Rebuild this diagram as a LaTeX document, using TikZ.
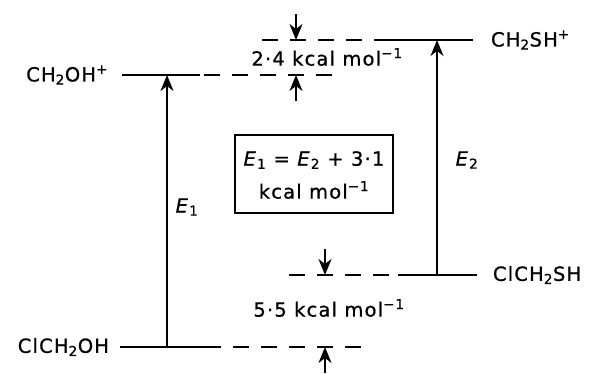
\documentclass[tikz,border=0pt]{standalone}
\usepackage{fontspec}
\setmainfont{DejaVu Sans}[LetterSpace=6, FakeBold=0.8]
\usepackage{tikz}
\usetikzlibrary{arrows.meta}
\newcommand{\En}[1]{\textit{E}\textsubscript{#1}}

\begin{document}
\begin{tikzpicture}[x=1pt, y=1pt, line width=2pt,
		lvl/.style={line width=2pt},
		lvldash/.style={line width=2pt, dash pattern=on 16pt off 12pt},
		gap/.style={-{Stealth[length=16pt, width=13pt, inset=5pt]}, line width=2pt},
		txt/.style={font=\fontsize{19.5}{23}\selectfont, inner sep=0pt}]
			\useasboundingbox (0, 0) rectangle (593, 373);
			\def\ya{333}
			\def\yb{298}
			\def\yc{98}
			\def\yd{26}
			
			\coordinate (sha) at (390, \ya);
			\coordinate (shb) at (473, \ya);
			\coordinate (shd) at (262, \ya);
			\coordinate (oha) at (122, \yb);
			\coordinate (ohb) at (200, \yb);
			\coordinate (ohd) at (342, \yb);
			\coordinate (csa) at (398, \yc);
			\coordinate (csb) at (477, \yc);
			\coordinate (csd) at (287, \yc);
			\coordinate (coa) at (120, \yd);
			\coordinate (cob) at (212, \yd);
			\coordinate (cod) at (363, \yd);
			
			\draw[lvl] (sha) -- (shb);
			\draw[lvldash] (shd) -- (sha);
			\draw[lvl] (oha) -- (ohb);
			\draw[lvldash, dash phase=24pt] (ohb) -- (ohd);
			\draw[lvl] (csa) -- (csb);
			\draw[lvldash, dash phase=26pt] (csd) -- (csa);
			\draw[lvl] (coa) -- (cob);
			\draw[lvldash, dash phase=7pt] (cob) -- (cod);
			
			\coordinate (eoa) at (167, \yd);
			\coordinate (eob) at (167, \yb);
			\coordinate (esa) at (437, \yc);
			\coordinate (esb) at (437, \ya);
			\draw[gap] (eoa) -- (eob);
			\draw[gap] (esa) -- (esb);
			
			\coordinate (dta) at (296, 359);
			\coordinate (dtb) at (296, \ya);
			\coordinate (uta) at (296, 272);
			\coordinate (utb) at (296, \yb);
			\coordinate (dba) at (325, 124);
			\coordinate (dbb) at (325, \yc);
			\coordinate (uba) at (325, 0);
			\coordinate (ubb) at (325, \yd);
			\draw[gap] (dta) -- (dtb);
			\draw[gap] (uta) -- (utb);
			\draw[gap] (dba) -- (dbb);
			\draw[gap] (uba) -- (ubb);
			
			\node[txt, anchor=west] (lsh) at (490, \ya) {CH\textsubscript{2}SH\textsuperscript{+}};
			\node[txt, anchor=east] (loh) at (109, \yb) {CH\textsubscript{2}OH\textsuperscript{+}};
			\node[txt, anchor=west] (lcs) at (492, \yc) {ClCH\textsubscript{2}SH};
			\node[txt, anchor=east] (lco) at (110, \yd) {ClCH\textsubscript{2}OH};
			
			\node[txt] (gta) at (327, 316) {2·4 kcal mol\textsuperscript{−1}};
			\node[txt] (gba) at (329, 65) {5·5 kcal mol\textsuperscript{−1}};
			\node[txt] (leo) at (187, 166) {\En{1}};
			\node[txt] (les) at (467, 213) {\En{2}};
			
			\node[draw, line width=2pt, minimum width=158pt, minimum height=78pt] (rel) at (314, 199) {};
			\node[txt] (rla) at (314, 213) {\En{1} = \En{2} + 3·1};
			\node[txt] (rlb) at (314, 183) {kcal mol\textsuperscript{−1}};
			
		\end{tikzpicture}
\end{document}
